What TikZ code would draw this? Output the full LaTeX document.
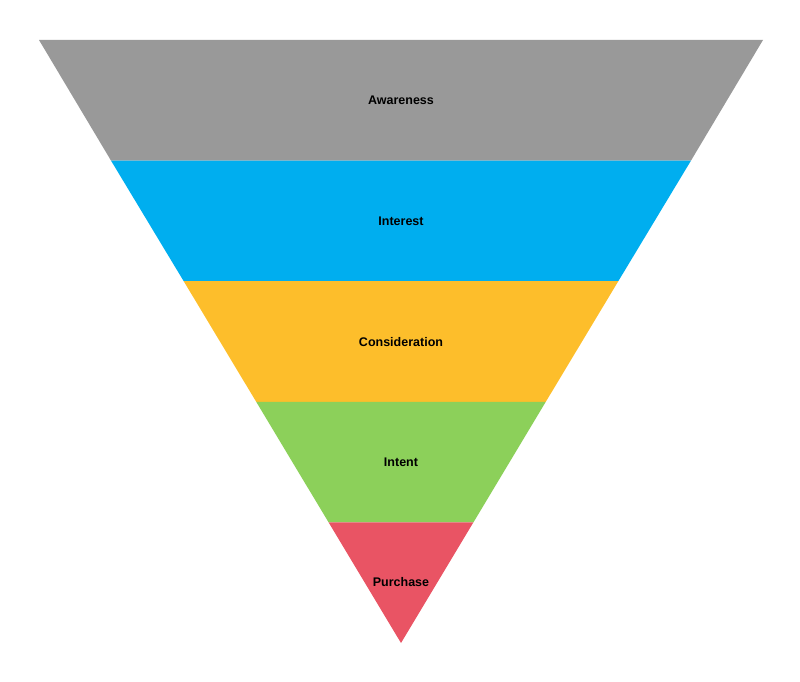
\documentclass[tikz,border=0pt]{standalone}
\usepackage{fontspec}
\setmainfont{Liberation Sans}
\definecolor{cgray}{HTML}{999999}
\definecolor{cblue}{HTML}{00AEEF}
\definecolor{cyellow}{HTML}{FDBE2B}
\definecolor{cgreen}{HTML}{8CD05A}
\definecolor{cred}{HTML}{E95464}
\begin{document}
\begin{tikzpicture}[x=1pt,y=-1pt,lbl/.style={font=\bfseries\fontsize{12.5}{14}\selectfont,text=black}]
\useasboundingbox (0,0) rectangle (800,682);
\fill[cgray] (39,40) -- (763,40) -- (691,160.6) -- (111,160.6) -- cycle;
\fill[cblue] (111,160.6) -- (691,160.6) -- (618.3,281.2) -- (183.7,281.2) -- cycle;
\fill[cyellow] (183.7,281.2) -- (618.3,281.2) -- (545.8,401.8) -- (256.2,401.8) -- cycle;
\fill[cgreen] (256.2,401.8) -- (545.8,401.8) -- (473.4,522.4) -- (328.6,522.4) -- cycle;
\fill[cred] (328.6,522.4) -- (473.4,522.4) -- (401,643) -- cycle;
\node[lbl] (aw) at (401,100) {Awareness};
\node[lbl] (in) at (401,221) {Interest};
\node[lbl] (co) at (401,342) {Consideration};
\node[lbl] (it) at (401,462) {Intent};
\node[lbl] (pu) at (401,582) {Purchase};
\end{tikzpicture}
\end{document}
